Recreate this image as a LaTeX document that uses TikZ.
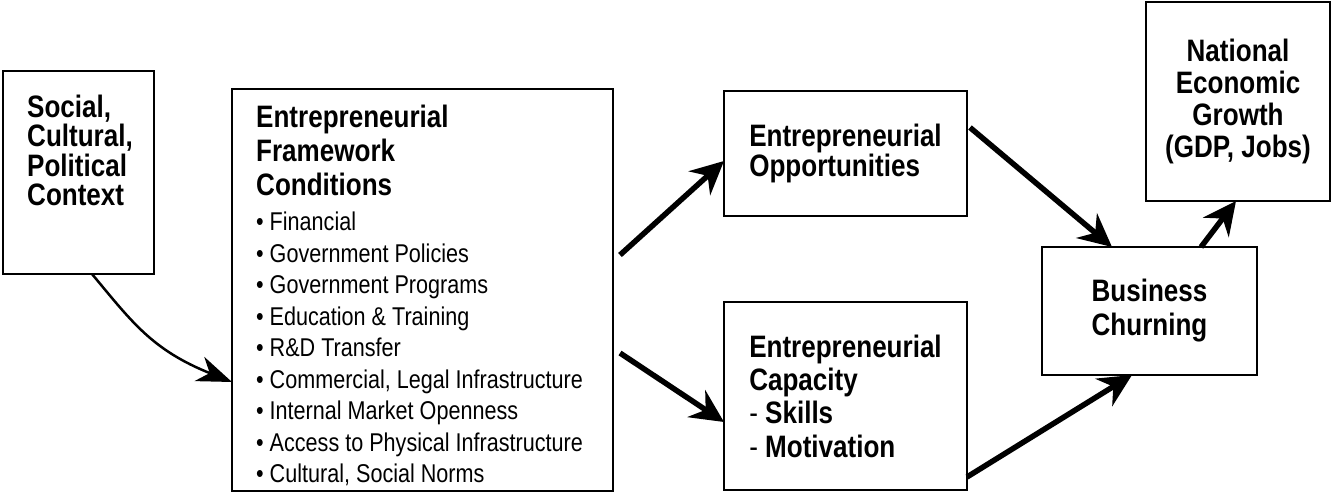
\documentclass[tikz,border=0pt]{standalone}
\usepackage{fontspec}
\setmainfont{Liberation Sans}[FakeStretch=0.84]
\usetikzlibrary{arrows.meta, positioning, calc}

\tikzset{
  box/.style={draw, line width=2.5pt, outer sep=0pt, inner sep=0pt},
  head/.style={font=\fontsize{31}{34}\selectfont\bfseries, align=left, inner sep=0pt},
  items/.style={font=\fontsize{25.7}{31.5}\selectfont, align=left, inner sep=0pt},
  fat/.style={line width=5.5pt, -{Stealth[length=33pt, width=32pt, inset=11pt]}},
  feed/.style={line width=2.5pt, -{Stealth[length=35pt, width=26pt, inset=11pt]}},
}

\begin{document}
\begin{tikzpicture}[x=1pt, y=-1pt]
  \useasboundingbox (0,0) rectangle (1333,494);

  \node[box, anchor=north west, minimum width=151pt, minimum height=203pt] (ctx) at (3,71) {}; % context
  \node[head, font=\fontsize{31}{29.3}\selectfont\bfseries, below right=24pt and 24pt of ctx.north west] (ctxtext) {Social,\\Cultural,\\Political\\Context};

  \node[box, anchor=north west, minimum width=381pt, minimum height=402pt] (efc) at (232,89) {}; % framework conditions
  \node[head, below right=16pt and 24pt of efc.north west] (efchead) {Entrepreneurial\\Framework\\Conditions};
  \node[items, below right=123pt and 24pt of efc.north west] (efclist) {%
    • Financial\\
    • Government Policies\\
    • Government Programs\\
    • Education \& Training\\
    • R\&D Transfer\\
    • Commercial, Legal Infrastructure\\
    • Internal Market Openness\\
    • Access to Physical Infrastructure\\
    • Cultural, Social Norms};

  \node[box, head, font=\fontsize{31}{28}\selectfont\bfseries, anchor=north west, minimum width=243pt, minimum height=125pt] (opp) at (724,91) {Entrepreneurial\\Opportunities};
  \node[box, head, font=\fontsize{31}{33.3}\selectfont\bfseries, anchor=north west, minimum width=243pt, minimum height=188pt] (cap) at (724,302) {Entrepreneurial\\Capacity\\{\mdseries -} Skills\\{\mdseries -} Motivation};

  \node[box, head, align=center, anchor=north west, minimum width=215pt, minimum height=128pt] (churn) at (1042,247) {Business\\Churning};
  \node[box, head, font=\fontsize{31}{32}\selectfont\bfseries, align=center, anchor=north west, minimum width=184pt, minimum height=199pt] (growth) at (1146,2) {National\\Economic\\Growth\\(GDP, Jobs)};

  % arrows
  \draw[feed] ($(ctx.south)+(13.5,0)$) .. controls +(40,48) and +(-80,-32) .. ($(efc.west)+(0,92)$);
  \draw[fat] ($(efc.east)+(7,-35)$) -- ($(opp.west)+(0,7.5)$);
  \draw[fat] ($(efc.east)+(7,63)$) -- ($(cap.west)+(0,26)$);
  \draw[fat] ($(opp.east)+(3,-26)$) -- ($(churn.north)+(-37.5,0)$);
  \draw[fat] ($(cap.south east)+(0,-13)$) -- ($(churn.south)+(-17.5,0)$);
  \draw[fat] ($(churn.north)+(51.5,0)$) -- ($(growth.south)+(-2,0)$);
\end{tikzpicture}
\end{document}
